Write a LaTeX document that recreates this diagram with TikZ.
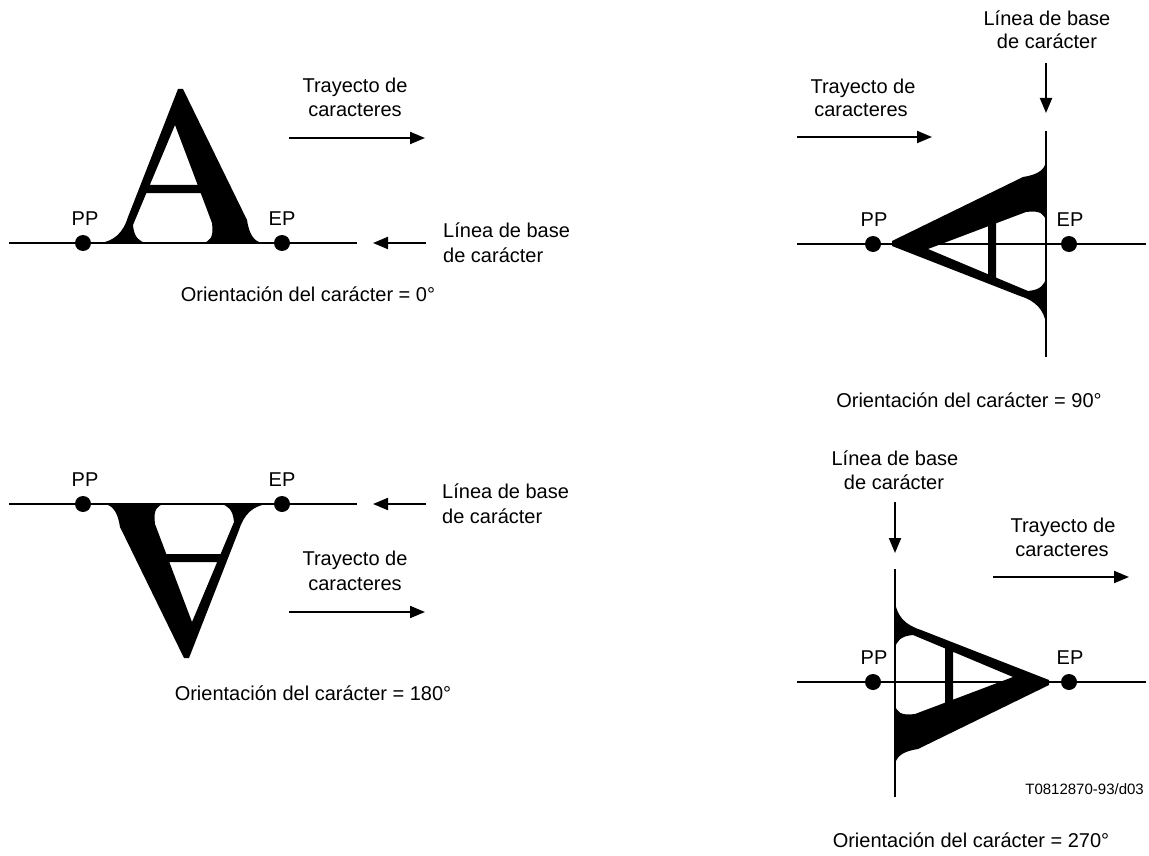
\documentclass[tikz,border=0pt]{standalone}
\usepackage{fontspec}
\setmainfont{Liberation Sans}
\usetikzlibrary{arrows.meta}
\begin{document}
\begin{tikzpicture}[x=1pt,y=-1pt,
  lbl/.style={font=\fontsize{20}{24}\selectfont, inner sep=0pt, anchor=base},
  lblw/.style={lbl, anchor=base west},
  small/.style={font=\fontsize{15}{18}\selectfont, inner sep=0pt, anchor=base east},
  baseln/.style={line width=2pt},
  arr/.style={line width=2pt, -{Triangle[length=15pt,width=12pt]}},
  dot/.style={circle, fill=black, inner sep=0pt, minimum size=16pt},
  glyphA/.pic={
    \fill[even odd rule]
      (-80,0) -- (-33,0) .. controls (-41,1) and (-46,6) .. (-47,18)
      -- (-33.6,50) -- (20.7,50) -- (32,20)
      .. controls (34,6) and (30,1) .. (22,0)
      -- (82,0) .. controls (73,2) and (69,10) .. (67,23)
      -- (3,154) -- (-2,154) -- (-52,26)
      .. controls (-57,10) and (-66,2) .. (-80,0) -- cycle
      (-30.2,58) -- (17.7,58) -- (-5,118) -- cycle;
  },
]
\useasboundingbox (0,0) rectangle (1149,856);

% ---------- Panel 1 : 0 degrees ----------
\coordinate (a1L) at (9,243); \coordinate (a1R) at (357,243);
\draw[baseln] (a1L) -- (a1R);
\pic[yscale=-1] at (180,243) {glyphA};
\node[dot] (pp1) at (83,243) {}; \node[dot] (ep1) at (282,243) {};
\node[lbl] (pp1t) at (85,225) {PP}; \node[lbl] (ep1t) at (282,225) {EP};
\node[lbl] (t1a) at (355,93) {Trayecto de};
\node[lbl] (t1b) at (355,117) {caracteres};
\coordinate (tr1s) at (289,138); \coordinate (tr1e) at (425,138);
\draw[arr] (tr1s) -- (tr1e);
\coordinate (b1s) at (426,243); \coordinate (b1e) at (373,243);
\draw[arr] (b1s) -- (b1e);
\node[lblw] (l1a) at (443,237) {Línea de base};
\node[lblw] (l1b) at (443,262) {de carácter};
\node[lbl] (o1) at (308,301) {Orientación del carácter = 0°};

% ---------- Panel 2 : 90 degrees ----------
\node[lbl] (l2a) at (1047,26) {Línea de base};
\node[lbl] (l2b) at (1047,49) {de carácter};
\coordinate (b2s) at (1046,63); \coordinate (b2e) at (1046,113);
\draw[arr] (b2s) -- (b2e);
\coordinate (v2T) at (1046,131); \coordinate (v2B) at (1046,357);
\draw[baseln] (v2T) -- (v2B);
\node[lbl] (t2a) at (863,94) {Trayecto de};
\node[lbl] (t2b) at (861,117) {caracteres};
\coordinate (tr2s) at (797,137); \coordinate (tr2e) at (932,137);
\draw[arr] (tr2s) -- (tr2e);
\coordinate (a2L) at (797,244); \coordinate (a2R) at (1146,244);
\draw[baseln] (a2L) -- (a2R);
\pic[rotate=90, yscale=-1] at (1046,244) {glyphA};
\node[dot] (pp2) at (873,244) {}; \node[dot] (ep2) at (1069,244) {};
\node[lbl] (pp2t) at (874,226) {PP}; \node[lbl] (ep2t) at (1070,226) {EP};
\node[lbl] (o2) at (969,407) {Orientación del carácter = 90°};

% ---------- Panel 3 : 180 degrees ----------
\coordinate (a3L) at (9,504); \coordinate (a3R) at (357,504);
\draw[baseln] (a3L) -- (a3R);
\pic[rotate=180, yscale=-1] at (187,504) {glyphA};
\node[dot] (pp3) at (83,504) {}; \node[dot] (ep3) at (282,504) {};
\node[lbl] (pp3t) at (85,486) {PP}; \node[lbl] (ep3t) at (282,486) {EP};
\coordinate (b3s) at (426,504); \coordinate (b3e) at (373,504);
\draw[arr] (b3s) -- (b3e);
\node[lblw] (l3a) at (442,498) {Línea de base};
\node[lblw] (l3b) at (442,523) {de carácter};
\node[lbl] (t3a) at (355,565) {Trayecto de};
\node[lbl] (t3b) at (355,590) {caracteres};
\coordinate (tr3s) at (289,612); \coordinate (tr3e) at (425,612);
\draw[arr] (tr3s) -- (tr3e);
\node[lbl] (o3) at (313,700) {Orientación del carácter = 180°};

% ---------- Panel 4 : 270 degrees ----------
\node[lbl] (l4a) at (895,465) {Línea de base};
\node[lbl] (l4b) at (894,489) {de carácter};
\coordinate (b4s) at (895,502); \coordinate (b4e) at (895,553);
\draw[arr] (b4s) -- (b4e);
\coordinate (v4T) at (895,569); \coordinate (v4B) at (895,797);
\draw[baseln] (v4T) -- (v4B);
\node[lbl] (t4a) at (1063,532) {Trayecto de};
\node[lbl] (t4b) at (1062,556) {caracteres};
\coordinate (tr4s) at (993,577); \coordinate (tr4e) at (1129,577);
\draw[arr] (tr4s) -- (tr4e);
\coordinate (a4L) at (797,682); \coordinate (a4R) at (1146,682);
\draw[baseln] (a4L) -- (a4R);
\pic[rotate=-90, yscale=-1] at (895,682) {glyphA};
\node[dot] (pp4) at (873,682) {}; \node[dot] (ep4) at (1069,682) {};
\node[lbl] (pp4t) at (874,664) {PP}; \node[lbl] (ep4t) at (1070,664) {EP};
\node[small] (ref) at (1144,794) {T0812870-93/d03};
\node[lbl] (o4) at (971,847) {Orientación del carácter = 270°};
\end{tikzpicture}
\end{document}
